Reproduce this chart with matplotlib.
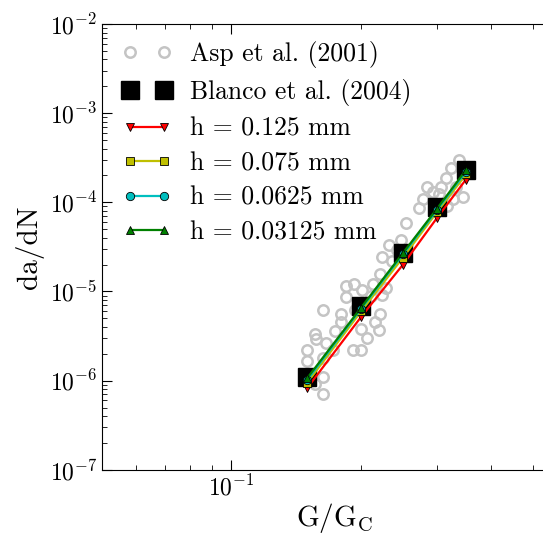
import numpy as np
import matplotlib
matplotlib.use("Agg")
import matplotlib.pyplot as plt

plt.rcParams['font.family'] = ['cmr10', 'DejaVu Serif']
plt.rcParams['mathtext.fontset'] = 'cm'
plt.rcParams['axes.formatter.use_mathtext'] = True
plt.rcParams['axes.unicode_minus'] = False

# Asp et al. (2001) experimental scatter
asp_g = [0.337, 0.323, 0.314, 0.306, 0.344, 0.326, 0.285, 0.293, 0.273, 0.317,
         0.254, 0.232, 0.223, 0.247, 0.236, 0.221, 0.228, 0.223, 0.221, 0.215,
         0.220, 0.184, 0.184, 0.201, 0.211, 0.163, 0.180, 0.180, 0.174, 0.200,
         0.206, 0.156, 0.157, 0.166, 0.172, 0.191, 0.200, 0.150, 0.150, 0.163,
         0.163, 0.163, 0.156, 0.192, 0.213, 0.242, 0.279, 0.303, 0.332, 0.194]
asp_dadn = [3.0e-4, 2.4e-4, 1.85e-4, 1.49e-4, 1.14e-4, 1.09e-4, 1.49e-4, 1.32e-4, 8.7e-5, 9.1e-5,
            5.9e-5, 3.3e-5, 2.43e-5, 3.8e-5, 2.2e-5, 1.56e-5, 1.09e-5, 9.2e-6, 5.6e-6, 4.5e-6,
            3.7e-6, 1.15e-5, 8.6e-6, 1.05e-5, 8.8e-6, 6.2e-6, 5.6e-6, 4.5e-6, 3.6e-6, 3.8e-6,
            3.0e-6, 3.3e-6, 2.9e-6, 2.66e-6, 2.23e-6, 2.23e-6, 2.23e-6, 2.19e-6, 1.68e-6, 1.79e-6,
            1.1e-6, 7.1e-7, 9.2e-7, 1.2e-5, 1.2e-5, 2.9e-5, 1.09e-4, 1.25e-4, 1.49e-4, 6.2e-6]

# Blanco et al. (2004)
g_ratio = [0.15, 0.20, 0.25, 0.30, 0.35]
blanco = [1.1e-6, 6.8e-6, 2.7e-5, 8.9e-5, 2.3e-4]

# simulations, different element sizes
h_0125 = [8.3e-7, 5.2e-6, 2.0e-5, 6.7e-5, 1.8e-4]
h_0075 = [9.5e-7, 6.0e-6, 2.4e-5, 7.8e-5, 2.05e-4]
h_00625 = [1.02e-6, 6.4e-6, 2.6e-5, 8.2e-5, 2.2e-4]
h_003125 = [1.07e-6, 6.6e-6, 2.7e-5, 8.5e-5, 2.3e-4]

fig = plt.figure(figsize=(5.43, 5.37), dpi=100)
ax = fig.add_axes([0.187, 0.125, 0.857, 0.8305])

ax.plot(asp_g, asp_dadn, 'o', mfc='none', mec='#c4c4c4', mew=1.8, ms=7.5,
        label='Asp et al. (2001)')
ax.plot(g_ratio, blanco, 's', color='k', ms=12.5, label='Blanco et al. (2004)')
ax.plot(g_ratio, h_0125, 'r-v', mec='k', mew=0.6, ms=6, lw=1.6, label='h = 0.125 mm')
ax.plot(g_ratio, h_0075, 'y-s', mec='k', mew=0.6, ms=6, lw=1.6, label='h = 0.075 mm')
ax.plot(g_ratio, h_00625, 'c-o', mec='k', mew=0.6, ms=6, lw=1.6, label='h = 0.0625 mm')
ax.plot(g_ratio, h_003125, 'g-^', mec='k', mew=0.6, ms=6, lw=1.6, label='h = 0.03125 mm')

ax.set_xscale('log')
ax.set_yscale('log')
ax.set_xlim(0.05, 0.6)
ax.set_ylim(1e-7, 1e-2)

ax.tick_params(which='both', direction='in', top=True, right=True, labelsize=17)
ax.tick_params(which='major', length=7)
ax.tick_params(which='minor', length=3.5)
ax.tick_params(axis='y', pad=3)
ax.tick_params(axis='x', pad=4)

ax.set_xlabel(r'$\mathrm{G/G_C}$', fontsize=21, labelpad=0)
ax.set_ylabel('da/dN', fontsize=21, labelpad=4)

ax.legend(loc='upper left', bbox_to_anchor=(0.0, 1.007), frameon=False,
          numpoints=2, fontsize=18.5, handlelength=1.95, handletextpad=0.7,
          labelspacing=0.42, borderpad=0.3)

fig.savefig('out.png', dpi=100)
